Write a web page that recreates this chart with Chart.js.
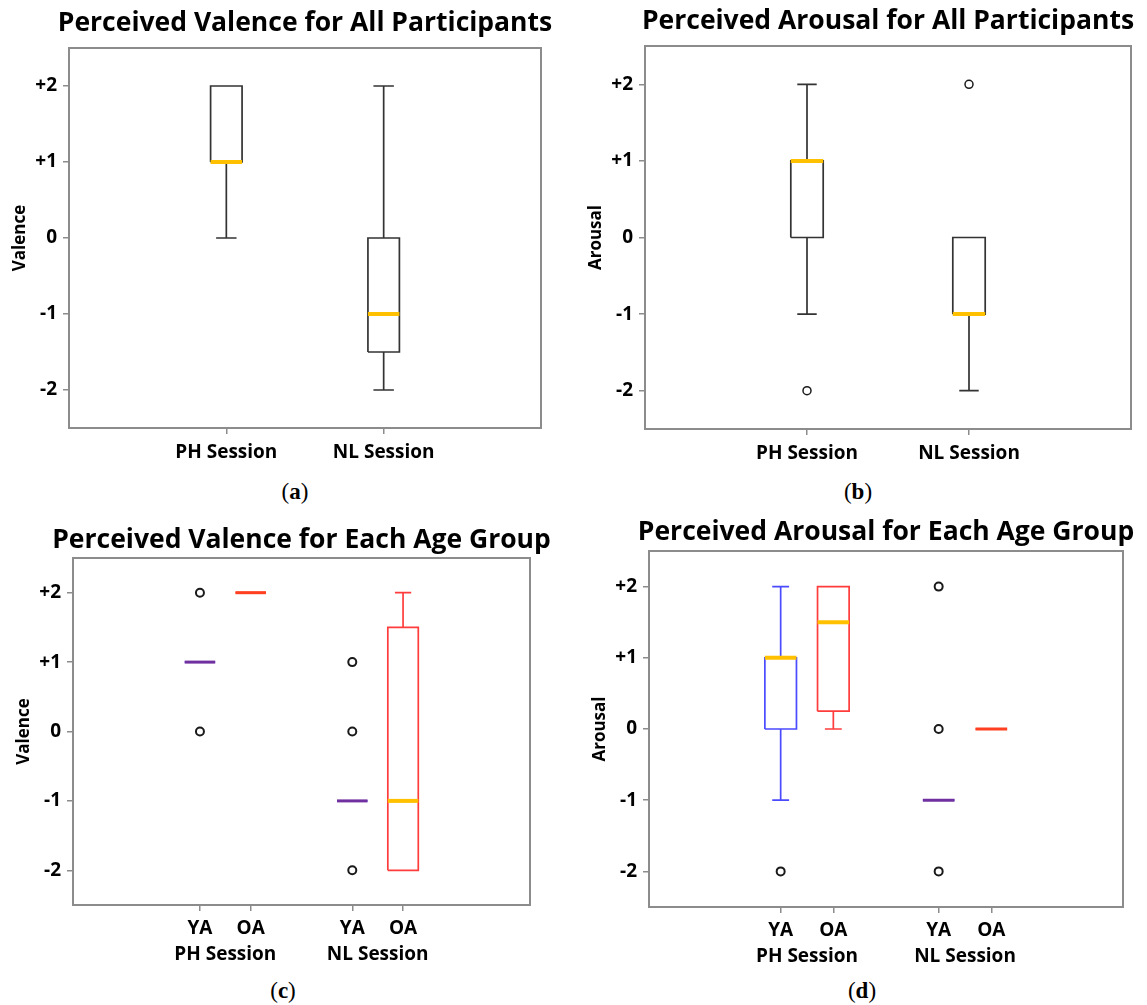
<!DOCTYPE html>
<html>
<head>
<meta charset="utf-8">
<script src="https://cdn.jsdelivr.net/npm/chart.js@4.4.1/dist/chart.umd.min.js"></script>
<style>
    html, body { margin: 0; padding: 0; background: #fff; overflow: hidden; }
    body { width: 1147px; height: 1005px; position: relative; }
    .panel { position: absolute; }
    .tag { position: absolute; font-family: 'Liberation Serif', 'DejaVu Serif', serif; font-size: 23px; line-height: 26px; color: #000; transform: translateX(-50%); }
</style>
</head>
<body>
<div class="panel" style="left:9px;top:8px;width:592px;height:455px"><canvas id="graficoA"></canvas></div>
<div class="panel" style="left:585px;top:6px;width:606px;height:458px"><canvas id="graficoB"></canvas></div>
<div class="panel" style="left:13px;top:525px;width:577px;height:441px"><canvas id="graficoC"></canvas></div>
<div class="panel" style="left:589px;top:517px;width:594px;height:451px"><canvas id="graficoD"></canvas></div>
<div class="tag" style="left:295px;top:479px">(<b>a</b>)</div>
<div class="tag" style="left:858px;top:479px">(<b>b</b>)</div>
<div class="tag" style="left:283px;top:978px">(<b>c</b>)</div>
<div class="tag" style="left:862px;top:978px">(<b>d</b>)</div>
<script>
// --- data ---
const yTicks = [-2, -1, 0, 1, 2];
const yTickLabels = ['-2', '-1', '0', '+1', '+2'];

// (a) and (b): all participants
const sessions = ['PH Session', 'NL Session'];
const sessionPos = [1, 2];

const valAllMin = [0, -2];
const valAllQ1 = [1, -1.5];
const valAllMed = [1, -1];
const valAllQ3 = [2, 0];
const valAllMax = [2, 2];
const valAllOut = [[], []];

const aroAllMin = [-1, -2];
const aroAllQ1 = [0, -1];
const aroAllMed = [1, -1];
const aroAllQ3 = [1, 0];
const aroAllMax = [2, 0];
const aroAllOut = [[-2], [2]];

// (c) and (d): per age group
const groups = ['YA', 'OA', 'YA', 'OA'];
const groupPos = [2.5, 3.5, 5.5, 6.5];
const groupSessionPos = [3, 6];

const valAgeMin = [1, 2, -1, -2];
const valAgeQ1 = [1, 2, -1, -2];
const valAgeMed = [1, 2, -1, -1];
const valAgeQ3 = [1, 2, -1, 1.5];
const valAgeMax = [1, 2, -1, 2];
const valAgeOut = [[2, 0], [], [1, 0, -2], []];

const aroAgeMin = [-1, 0, -1, 0];
const aroAgeQ1 = [0, 0.25, -1, 0];
const aroAgeMed = [1, 1.5, -1, 0];
const aroAgeQ3 = [1, 2, -1, 0];
const aroAgeMax = [2, 2, -1, 0];
const aroAgeOut = [[-2], [], [2, 0, -2], []];

// --- styles ---
const FONT = '"Open Sans", Lato, sans-serif';
const MEDIAN = '#ffc000';
const GRAY = '#8c8c8c';
const allColors = { box: ['#333333', '#333333'], flat: ['#333333', '#333333'] };
const ageColors = {
    box: ['#4a4aff', '#ff3c3c', '#4a4aff', '#ff3c3c'],
    flat: ['#7030a0', '#ff4020', '#7030a0', '#ff4020']
};

// frame round the plot area
const frame = {
    id: 'frame',
    beforeDatasetsDraw(chart) {
        const { ctx, chartArea: a } = chart;
        ctx.save();
        ctx.strokeStyle = GRAY;
        ctx.lineWidth = 2;
        ctx.strokeRect(a.left, a.top, a.width, a.height);
        ctx.restore();
    }
};

// one box plot per position: outline + whiskers, median, outliers
function boxDatasets(pos, lo, q1, med, q3, hi, out, colors, boxW, capW, dotR, dotW) {
    const sets = [];
    const h = boxW / 2, c = capW / 2;
    pos.forEach((x, i) => {
        const gap = { x: x, y: null };
        sets.push({
            type: 'line',
            data: [
                { x: x - h, y: q1[i] }, { x: x + h, y: q1[i] }, { x: x + h, y: q3[i] }, { x: x - h, y: q3[i] }, { x: x - h, y: q1[i] }, gap,
                { x: x, y: q3[i] }, { x: x, y: hi[i] }, gap,
                { x: x - c, y: hi[i] }, { x: x + c, y: hi[i] }, gap,
                { x: x, y: q1[i] }, { x: x, y: lo[i] }, gap,
                { x: x - c, y: lo[i] }, { x: x + c, y: lo[i] }
            ],
            borderColor: colors.box[i],
            borderWidth: 1.7,
            pointRadius: 0,
            spanGaps: false,
            order: 2
        });
        const flat = q1[i] === q3[i];
        sets.push({
            type: 'line',
            data: [{ x: x - h, y: med[i] }, { x: x + h, y: med[i] }],
            borderColor: flat ? colors.flat[i] : MEDIAN,
            borderWidth: flat ? 3 : 4,
            pointRadius: 0,
            order: 1
        });
        if (out[i].length) {
            sets.push({
                type: 'scatter',
                data: out[i].map(v => ({ x: x, y: v })),
                pointStyle: 'circle',
                pointRadius: dotR,
                borderWidth: dotW,
                borderColor: '#1a1a1a',
                backgroundColor: 'rgba(0,0,0,0)',
                order: 0
            });
        }
    });
    return sets;
}

function yScale(title) {
    return {
        type: 'linear',
        min: -2.5,
        max: 2.5,
        afterBuildTicks: ax => { ax.ticks = yTicks.map(v => ({ value: v })); },
        afterFit: ax => { ax.width = 60; },
        ticks: { callback: (v, i) => yTickLabels[i], color: '#000', padding: 6, font: { family: FONT, size: 19, weight: 'bold' } },
        grid: { drawOnChartArea: false, tickLength: 6, color: GRAY, lineWidth: 1.5 },
        border: { display: false },
        title: { display: true, text: title, color: '#000', padding: { top: 1, bottom: 0 }, font: { family: FONT, size: 17, weight: 'bold' } }
    };
}

function xScale(pos, labels, max, height, pad, marks) {
    return {
        type: 'linear',
        position: 'bottom',
        min: 0,
        max: max,
        afterBuildTicks: ax => { ax.ticks = pos.map(v => ({ value: v })); },
        afterFit: ax => { ax.height = height; },
        ticks: { callback: (v, i) => labels[i], color: '#000', padding: pad, maxRotation: 0, autoSkip: false, font: { family: FONT, size: 19, weight: 'bold' } },
        grid: marks ? { drawOnChartArea: false, tickLength: 6, color: GRAY, lineWidth: 1.5 } : { display: false, drawTicks: false },
        border: { display: false }
    };
}

// empty right axis, keeps the title centred over the plot
const spacer = {
    position: 'right',
    afterFit: ax => { ax.width = 60; },
    ticks: { display: false },
    grid: { display: false },
    border: { display: false }
};

function makeChart(id, title, padTitle, datasets, scales) {
    return new Chart(document.getElementById(id), {
        type: 'scatter',
        data: { datasets: datasets },
        options: {
            responsive: true,
            maintainAspectRatio: false,
            animation: false,
            layout: { padding: 0 },
            plugins: {
                legend: { display: false },
                tooltip: { enabled: false },
                title: {
                    display: true,
                    text: title,
                    color: '#000',
                    padding: { top: 0, bottom: padTitle },
                    font: { family: FONT, size: 26.5, weight: 'bold', lineHeight: 1.2 }
                }
            },
            scales: scales
        },
        plugins: [frame]
    });
}

makeChart('graficoA', 'Perceived Valence for All Participants', 8.2,
    boxDatasets(sessionPos, valAllMin, valAllQ1, valAllMed, valAllQ3, valAllMax, valAllOut, allColors, 0.2, 0.13, 4, 1.5),
    { x: xScale(sessionPos, sessions, 3, 35, 7, true), y: yScale('Valence'), y2: spacer });

makeChart('graficoB', 'Perceived Arousal for All Participants', 8.2,
    boxDatasets(sessionPos, aroAllMin, aroAllQ1, aroAllMed, aroAllQ3, aroAllMax, aroAllOut, allColors, 0.2, 0.12, 4, 1.5),
    { x: xScale(sessionPos, sessions, 3, 35, 7, true), y: yScale('Arousal'), y2: spacer });

makeChart('graficoC', 'Perceived Valence for Each Age Group', 1.2,
    boxDatasets(groupPos, valAgeMin, valAgeQ1, valAgeMed, valAgeQ3, valAgeMax, valAgeOut, ageColors, 0.6, 0.32, 4, 2),
    { x: xScale(groupPos, groups, 9, 33, 6, true), x2: Object.assign(xScale(groupSessionPos, sessions, 9, 28, 5, false), { weight: 1 }), y: yScale('Valence'), y2: spacer });

makeChart('graficoD', 'Perceived Arousal for Each Age Group', 2.2,
    boxDatasets(groupPos, aroAgeMin, aroAgeQ1, aroAgeMed, aroAgeQ3, aroAgeMax, aroAgeOut, ageColors, 0.6, 0.32, 4, 2),
    { x: xScale(groupPos, groups, 9, 33, 6, true), x2: Object.assign(xScale(groupSessionPos, sessions, 9, 28, 5, false), { weight: 1 }), y: yScale('Arousal'), y2: spacer });
</script>
</body>
</html>
